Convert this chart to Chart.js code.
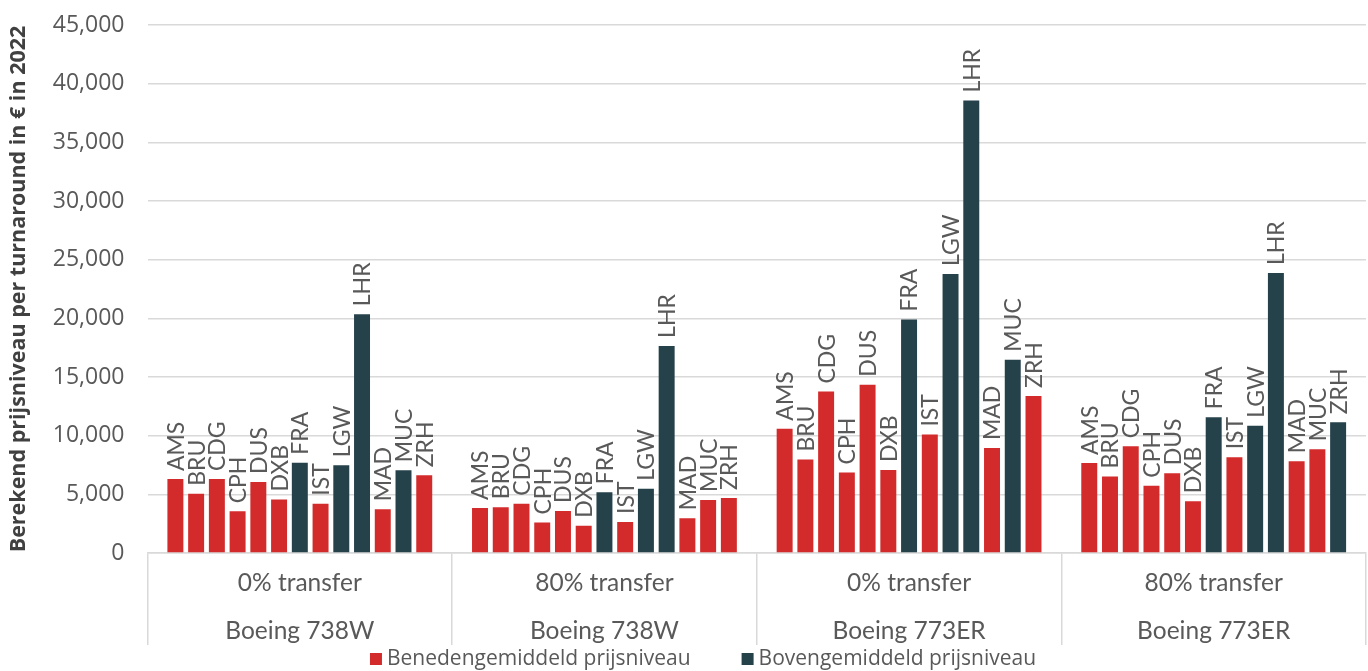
<!DOCTYPE html>
<html><head><meta charset="utf-8">
<script src="https://cdn.jsdelivr.net/npm/chart.js@4.4.1/dist/chart.umd.min.js"></script>
<style>html,body{margin:0;padding:0;background:#fff}#wrap{width:1368px;height:671px;position:relative}</style>
</head><body><div id="wrap"><canvas id="c"></canvas></div>
<script>
const airports = ["AMS","BRU","CDG","CPH","DUS","DXB","FRA","IST","LGW","LHR","MAD","MUC","ZRH"];
const groupTransfer = ["0% transfer","80% transfer","0% transfer","80% transfer"];
const groupAircraft = ["Boeing 738W","Boeing 738W","Boeing 773ER","Boeing 773ER"];
const b738_0  = [6300,5050,6300,3550,6050,4550,7700,4200,7470,20350,3720,7050,6620];
const b738_80 = [3840,3900,4200,2600,3580,2330,5170,2640,5480,17650,2960,4520,4690];
const b773_0  = [10600,7960,13760,6870,14340,7070,19890,10090,23770,38560,8940,16470,13390];
const b773_80 = [7670,6530,9090,5740,6790,4400,11560,8150,10850,23860,7810,8840,11140];
// 1 = bovengemiddeld prijsniveau, 0 = benedengemiddeld
const above738_0  = [0,0,0,0,0,0,1,0,1,1,0,1,0];
const above738_80 = [0,0,0,0,0,0,1,0,1,1,0,0,0];
const above773_0  = [0,0,0,0,0,0,1,0,1,1,0,1,0];
const above773_80 = [0,0,0,0,0,0,1,0,1,1,0,0,1];
const seriesNames = ["Benedengemiddeld prijsniveau","Bovengemiddeld prijsniveau"];
const yTicks = [0,5000,10000,15000,20000,25000,30000,35000,40000,45000];

const RED = "#d32b2b", DARK = "#25414a", TXT = "#595959", GRID = "#d9d9d9";
const groups = [b738_0,b738_80,b773_0,b773_80];
const flags = [above738_0,above738_80,above773_0,above773_80];
const seriesColors = [RED, DARK];

const datasets = airports.map((code,i)=>({
  label: code,
  data: groups.map(g=>g[i]),
  backgroundColor: flags.map(f=> seriesColors[f[i]]),
  categoryPercentage: 0.885,
  barPercentage: 0.77
}));

const labelPlugin = {
  id:'labels',
  afterDatasetsDraw(chart){
    const ctx = chart.ctx;
    ctx.save();
    ctx.font = `23px Lato`;
    ctx.fillStyle = TXT;
    ctx.textAlign = 'left';
    ctx.textBaseline = 'middle';
    chart.data.datasets.forEach((ds,di)=>{
      const meta = chart.getDatasetMeta(di);
      meta.data.forEach((el)=>{
        ctx.save();
        ctx.translate(el.x, el.y - 8);
        ctx.rotate(-Math.PI/2);
        ctx.fillText(ds.label, 0, 1);
        ctx.restore();
      });
    });
    ctx.restore();
  },
  afterDraw(chart){
    const ctx = chart.ctx, xs = chart.scales.x, b = chart.chartArea.bottom;
    ctx.save();
    ctx.font = `24.5px Lato`;
    ctx.fillStyle = TXT;
    ctx.textAlign = 'center';
    ctx.textBaseline = 'middle';
    groupTransfer.forEach((t,i)=>{
      const x = xs.getPixelForValue(i);
      ctx.fillText(t, x, b + 30);
      ctx.fillText(groupAircraft[i], x, b + 78);
    });
    // legend
    ctx.font = `21px "Open Sans"`;
    ctx.textAlign = 'left';
    const box = 12, gapText = 5, gapItem = 51;
    const widths = seriesNames.map(n=>ctx.measureText(n).width);
    const total = widths.reduce((a,w)=>a+box+gapText+w,0) + gapItem*(seriesNames.length-1);
    let x = chart.width/2 + 19 - total/2;
    const y = chart.height - 12;
    seriesNames.forEach((n,i)=>{
      ctx.fillStyle = seriesColors[i];
      ctx.fillRect(x, y - box/2, box, box);
      ctx.fillStyle = TXT;
      ctx.fillText(n, x + box + gapText, y);
      x += box + gapText + widths[i] + gapItem;
    });
    ctx.restore();
  }
};

new Chart(document.getElementById('c'), {
  type:'bar',
  data:{ labels: groupTransfer.map((t,i)=>t+" "+groupAircraft[i]), datasets },
  options:{
    responsive:true, maintainAspectRatio:false, animation:false,
    layout:{ padding:{ top:25, right:2, left:6, bottom:26 } },
    plugins:{ tooltip:{enabled:false}, legend:{display:false} },
    scales:{
      x:{
        grid:{ offset:true, drawOnChartArea:false, drawTicks:true, tickLength:92, color:GRID, lineWidth:1.5 },
        border:{ color:GRID, width:1.5 },
        ticks:{ display:false }
      },
      y:{
        min:0, max:45000,
        afterBuildTicks(s){ s.ticks = yTicks.map(v=>({value:v})); },
        grid:{ color:GRID, lineWidth:1.5, drawTicks:true, tickLength:23, tickColor:'rgba(0,0,0,0)' },
        border:{ display:false },
        ticks:{ padding:0, color:TXT, font:{family:"Open Sans",size:23},
          callback:v=>v.toLocaleString('en-US') },
        title:{ display:true, text:"Berekend prijsniveau per turnaround in € in 2022",
          color:"#404040", font:{family:"Open Sans", size:21.5, weight:'bold'}, padding:{top:0,bottom:21} }
      }
    }
  },
  plugins:[labelPlugin]
});
</script></body></html>
